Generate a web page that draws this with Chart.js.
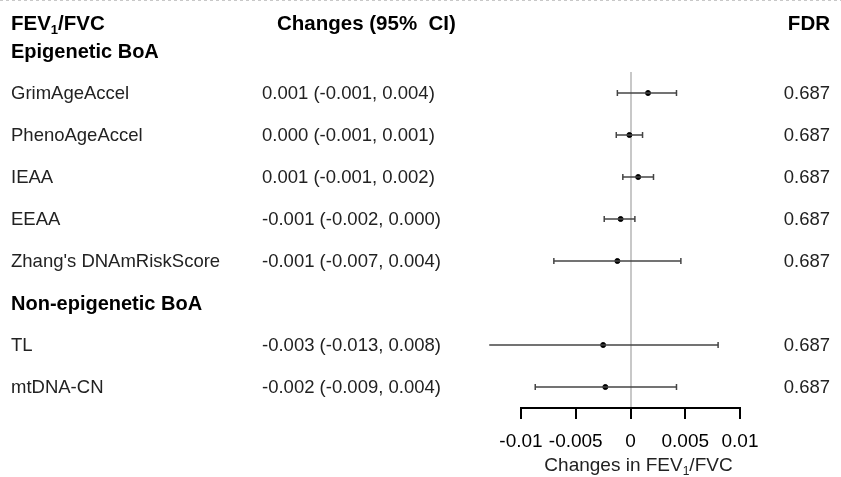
<!DOCTYPE html>
<html lang="en">
<head>
    <meta charset="UTF-8">
    <title>FEV1/FVC forest plot</title>
    <script src="https://cdn.jsdelivr.net/npm/chart.js"></script>
    <style>
        body {
            margin: 0;
            background-color: #fff;
        }
        #wrap {
            width: 841px;
            height: 477px;
        }
    </style>
</head>
<body>
    <div id="wrap"><canvas id="forest" width="841" height="477"></canvas></div>

    <script>
        // Data
        const rowLabels = ["GrimAgeAccel", "PhenoAgeAccel", "IEAA", "EEAA", "Zhang's DNAmRiskScore", "TL", "mtDNA-CN"];
        const rowPos = [2, 3, 4, 5, 6, 8, 9];
        const estimates = [0.0016, -0.0001, 0.0007, -0.0009, -0.0012, -0.0025, -0.0023];
        const lowers = [-0.0012, -0.0013, -0.0007, -0.0024, -0.0070, -0.0129, -0.0087];
        const uppers = [0.0042, 0.0011, 0.0021, 0.0004, 0.0046, 0.0080, 0.0042];
        const ciText = ["0.001 (-0.001, 0.004)", "0.000 (-0.001, 0.001)", "0.001 (-0.001, 0.002)",
            "-0.001 (-0.002, 0.000)", "-0.001 (-0.007, 0.004)", "-0.003 (-0.013, 0.008)", "-0.002 (-0.009, 0.004)"];
        const fdrText = ["0.687", "0.687", "0.687", "0.687", "0.687", "0.687", "0.687"];
        const groupLabels = ["Epigenetic BoA", "Non-epigenetic BoA"];
        const groupPos = [1, 7];
        const tickValues = [-0.01, -0.005, 0, 0.005, 0.01];
        const tickLabels = ["-0.01", "-0.005", "0", "0.005", "0.01"];

        const FONT = "'Liberation Sans', Arial, sans-serif";

        // one dataset per CI line (two points, capped ends)
        const ciSets = rowLabels.map((name, i) => ({
            label: name + " CI",
            data: [{ x: lowers[i], y: rowPos[i] }, { x: uppers[i], y: rowPos[i] }],
            showLine: true,
            borderColor: '#444',
            borderWidth: 1.5,
            pointStyle: 'line',
            rotation: 90,
            pointRadius: 3,
            pointBorderWidth: 1.5,
            pointBorderColor: '#444',
            clip: false
        }));

        const pointSet = {
            label: 'Estimate',
            data: estimates.map((v, i) => ({ x: v, y: rowPos[i] })),
            pointStyle: 'circle',
            pointRadius: 2.5,
            backgroundColor: '#000',
            borderColor: '#000',
            clip: false
        };

        // text columns, headers and axis title
        const tablePlugin = {
            id: 'table',
            afterDraw(chart) {
                const ctx = chart.ctx;
                const y = chart.scales.y;
                const area = chart.chartArea;
                ctx.save();

                // dashed line at the top edge
                ctx.strokeStyle = '#c8c8c8';
                ctx.lineWidth = 1;
                ctx.setLineDash([3, 3]);
                ctx.beginPath();
                ctx.moveTo(0, 0.5);
                ctx.lineTo(841, 0.5);
                ctx.stroke();
                ctx.setLineDash([]);

                // header row
                ctx.fillStyle = '#000';
                ctx.textBaseline = 'alphabetic';
                ctx.font = "bold 20.5px " + FONT;
                ctx.textAlign = 'left';
                ctx.fillText("FEV", 11, 30);
                let w = ctx.measureText("FEV").width;
                ctx.font = "bold 13px " + FONT;
                ctx.fillText("1", 11 + w, 34);
                let w2 = ctx.measureText("1").width;
                ctx.font = "bold 20.5px " + FONT;
                ctx.fillText("/FVC", 11 + w + w2, 30);
                ctx.fillText("Changes (95%  CI)", 277, 30);
                ctx.textAlign = 'right';
                ctx.fillText("FDR", 830, 30);

                // group headers
                ctx.font = "bold 20px " + FONT;
                ctx.textAlign = 'left';
                ctx.textBaseline = 'middle';
                groupLabels.forEach((g, i) => {
                    ctx.fillText(g, 11, y.getPixelForValue(groupPos[i]) + 1);
                });

                // rows
                ctx.fillStyle = '#222';
                ctx.font = "18.5px " + FONT;
                rowLabels.forEach((name, i) => {
                    const py = y.getPixelForValue(rowPos[i]) + 1;
                    ctx.textAlign = 'left';
                    ctx.fillText(name, 11, py);
                    ctx.fillText(ciText[i], 262, py);
                    ctx.textAlign = 'right';
                    ctx.fillText(fdrText[i], 830, py);
                });

                // x axis title with subscript
                ctx.fillStyle = '#222';
                ctx.textBaseline = 'alphabetic';
                ctx.font = "19px " + FONT;
                const a = "Changes in FEV", b = "/FVC";
                const wa = ctx.measureText(a).width, wb = ctx.measureText(b).width;
                ctx.font = "12px " + FONT;
                const ws = ctx.measureText("1").width;
                const cx = (area.left + area.right) / 2 + 8;
                let x0 = cx - (wa + ws + wb) / 2;
                ctx.textAlign = 'left';
                ctx.font = "19px " + FONT;
                ctx.fillText(a, x0, 471);
                ctx.font = "12px " + FONT;
                ctx.fillText("1", x0 + wa, 475);
                ctx.font = "19px " + FONT;
                ctx.fillText(b, x0 + wa + ws, 471);

                ctx.restore();
            }
        };

        new Chart(document.getElementById('forest').getContext('2d'), {
            type: 'scatter',
            data: { datasets: [...ciSets, pointSet] },
            options: {
                responsive: false,
                animation: false,
                layout: { padding: { left: 521, right: 101, top: 72, bottom: 0 } },
                plugins: {
                    legend: { display: false },
                    tooltip: { enabled: false }
                },
                scales: {
                    x: {
                        type: 'linear',
                        min: -0.01,
                        max: 0.01,
                        afterBuildTicks: scale => { scale.ticks = tickValues.map(v => ({ value: v })); },
                        afterFit: scale => { scale.height = 69; },
                        border: { display: true, color: '#000', width: 2 },
                        grid: {
                            drawOnChartArea: true,
                            color: c => (c.tick && c.tick.value === 0) ? '#c8c8c8' : 'rgba(0,0,0,0)',
                            lineWidth: 2,
                            tickColor: '#000',
                            tickWidth: 2,
                            tickLength: 11
                        },
                        ticks: {
                            color: '#000',
                            padding: 11,
                            maxRotation: 0,
                            autoSkip: false,
                            font: { family: FONT, size: 19 },
                            callback: (v, i) => tickLabels[i]
                        }
                    },
                    y: {
                        type: 'linear',
                        display: false,
                        reverse: true,
                        min: 1.5,
                        max: 9.5
                    }
                }
            },
            plugins: [tablePlugin]
        });
    </script>
</body>
</html>
